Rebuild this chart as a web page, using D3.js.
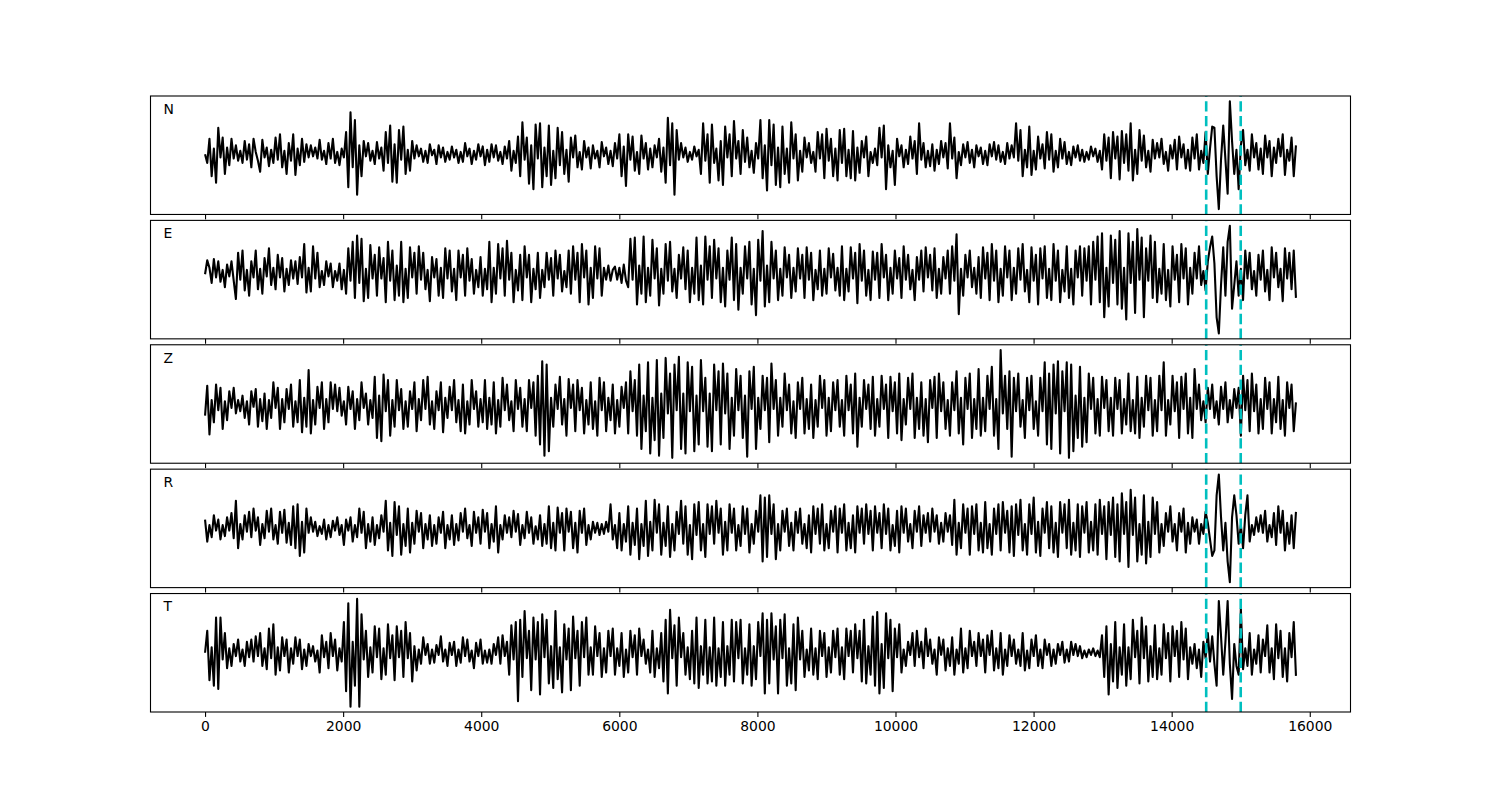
<!DOCTYPE html>
<html><head><meta charset="utf-8">
<script src="https://cdn.jsdelivr.net/npm/d3@7/dist/d3.min.js"></script>
<style>body{margin:0;background:#fff} svg{display:block}</style>
</head><body><svg id="c" width="1500" height="800"></svg>
<script>
const CHANNELS = ["N", "E", "Z", "R", "T"];
const DURATION = 15800;               // last sample index
const PICKS = [14500, 15000];         // dashed marker positions
const X_TICKS = [0, 2000, 4000, 6000, 8000, 10000, 12000, 14000, 16000];

// Each trace: successive extrema, evenly spaced over 0..DURATION samples
const traceN = [
0,-8,14,-20,5,-26,24,-3,15,-18,6,-10,14,-4,8,-6,
3,-8,12,-5,9,-12,14,2,-6,-16,13,-3,6,-11,4,-8,
15,-5,18,-12,3,-18,10,-6,18,-19,5,-10,14,-7,9,-3,
8,-2,6,-4,13,-5,3,-9,10,-4,14,-8,2,-10,5,-3,
20,-30,38,-12,31,-37,8,-20,12,-2,10,-6,3,-9,11,-4,
6,-15,20,-8,26,-25,9,-26,22,-5,25,-18,4,-15,12,-4,
8,-2,5,-7,3,-8,9,-1,4,-9,8,-3,6,-7,2,-5,
7,-3,4,-8,2,-7,10,-2,5,-9,3,-5,9,-2,7,-10,
4,-7,9,-3,8,-6,2,-9,7,-4,12,-15,3,-8,16,-20,
29,-5,15,-27,8,-32,27,-4,28,-30,6,-20,26,-28,3,-22,
24,-10,20,-18,4,-25,15,-3,17,-12,2,-14,12,-3,6,-13,
8,-4,3,-12,11,-2,6,-9,3,-11,10,-4,18,-20,7,-29,
18,-5,16,-15,2,-18,17,-4,10,-14,5,-12,8,-3,14,-16,
6,-26,33,-10,28,-37,22,-5,10,-3,6,-7,2,-5,7,-2,
4,-18,28,-6,18,-26,27,-8,5,-24,12,-28,25,-3,18,-20,
30,-4,12,-18,22,-7,15,-12,3,-17,10,-4,31,-22,8,-33,
31,-10,27,-28,6,-30,25,-18,5,-26,29,-4,18,-24,3,-16,
15,-3,10,-8,2,-16,20,-4,18,-22,23,-6,14,-20,5,-24,
22,-8,23,-20,4,-22,21,-24,6,-17,12,-3,16,-20,2,-8,
5,-10,24,-3,26,-32,8,-12,3,-28,14,-2,8,-12,4,-9,
16,-4,12,-18,28,-5,10,-12,3,-11,9,-15,4,-9,12,-3,
10,-13,28,-4,15,-22,2,-10,9,-3,11,-8,4,-12,8,-2,
6,-9,3,-10,9,-2,11,-5,8,-7,2,-9,10,-4,8,-3,
28,-6,22,-20,4,-12,25,-19,3,-14,16,-4,9,-13,20,-5,
18,-16,3,-12,14,-4,11,-9,2,-10,7,-3,8,-6,4,-7,
2,-5,7,-2,5,-7,3,-14,18,-6,15,-22,20,-4,16,-23,
21,-8,18,-15,28,-24,4,-18,22,-6,17,-12,3,-16,13,-4,
10,-3,14,-9,2,-15,8,-4,13,-14,16,-3,9,-13,4,-15,
15,-4,18,-14,3,-8,20,-18,5,25,24,-20,-50,-5,26,-5,
-36,48,12,-18,4,-32,8,22,-10,4,-15,18,-3,10,-14,5,
-18,17,-3,12,-20,6,-8,14,-2,18,-19,4,-6,15,-20,8
];
const traceE = [
0,13,6,-8,14,-3,12,-7,4,-12,9,-2,12,-6,-23,20,
-5,22,-15,4,-20,12,-3,22,-14,5,-18,15,-2,24,-10,6,
-14,18,-3,15,-16,5,-10,13,-4,12,-9,16,-3,28,-17,6,
-16,26,-4,20,-12,3,-10,12,-2,10,-12,3,-6,10,-14,4,
-18,24,-6,30,-22,36,-8,33,-25,5,-22,27,-4,18,-20,25,
-4,15,-26,30,-6,22,-24,8,-20,30,-26,5,-22,25,-3,20,
-18,26,-5,20,-14,4,-25,16,-3,14,-20,6,-22,24,-4,22,
-16,5,-24,22,-3,18,-20,24,-6,14,-18,4,-12,16,-20,5,
-14,30,-26,6,-18,28,-4,24,-20,31,-5,20,-26,4,-15,18,
-24,26,-3,18,-26,5,-14,20,-22,4,-12,20,-5,15,-20,22,
-4,18,-16,3,-12,22,-18,26,-5,20,-26,28,-3,22,-28,6,
-22,26,-4,24,-20,6,-5,8,-6,4,7,-5,6,-8,9,-6,
-12,33,-5,34,-28,8,-18,35,-26,6,-20,32,-4,24,-29,5,
-18,28,-6,30,-16,5,-22,18,-4,25,-14,22,-26,6,-18,34,
-24,8,-28,35,-5,26,-22,32,-4,24,-26,6,-30,22,-5,34,
-24,28,-33,6,-18,26,-4,30,-28,5,-38,32,-6,40,-30,8,
-26,30,-4,22,-24,5,-20,25,-3,18,-22,6,-16,24,-4,18,
-22,25,-5,20,-24,4,-14,22,-20,5,-18,24,-3,19,-15,6,
-20,26,-24,5,-16,25,-4,20,-27,28,-6,22,-20,4,-24,21,
-5,20,-22,28,-3,18,-24,6,-18,22,-4,15,-22,26,-5,18,
-14,4,-24,16,-5,22,-16,25,-3,18,-15,24,-22,5,-18,16,
-4,22,-18,26,-6,37,-37,5,-20,18,-3,22,-12,6,-18,16,
-22,25,-4,20,-24,28,-6,22,-26,5,-20,26,-3,22,-24,6,
-18,24,-5,28,-16,4,-26,25,-6,18,-28,24,-4,26,-22,5,
-24,28,-6,22,-26,4,-16,26,-22,5,-28,22,-3,26,-20,24,
-6,26,-28,30,-5,35,-26,38,-40,6,-30,36,-8,32,-28,40,
-32,6,-42,38,-8,30,-36,42,-5,34,-40,24,-6,36,-22,30,
-26,5,-18,28,-24,4,-30,26,-5,18,-26,28,-4,24,-28,6,
-18,20,-4,26,-10,3,-15,12,25,35,10,-40,-55,-10,25,-20,
30,45,-32,-10,12,-20,5,-24,22,-4,20,-14,3,-20,18,-5,
22,-16,4,-24,25,-3,20,-12,5,-25,24,-4,20,-14,22,-22
];
const traceZ = [
-10,17,-27,4,-16,18,-5,15,-22,3,-14,12,-3,15,-8,4,
-6,8,-12,3,-18,12,-2,14,-20,5,-15,10,-22,4,-12,20,
-3,15,-22,5,-16,14,-4,18,-20,3,-16,22,-25,6,-20,31,
-26,4,-18,16,-3,20,-22,5,-16,20,-4,18,-6,15,-10,3,
-18,16,-4,12,-22,5,-14,20,-3,10,-18,4,-12,25,-30,8,
-33,27,-6,22,-28,4,-20,22,-5,14,-22,3,-20,12,-4,20,
-24,5,-14,22,-4,25,-18,3,-22,12,-5,20,-25,6,-12,16,
-5,22,-16,4,-24,18,-26,3,-18,22,-4,12,-20,5,-16,22,
-22,6,-18,20,-26,4,-20,24,-5,18,-14,3,-24,22,-4,15,
-20,5,-24,22,-3,20,-28,26,-36,39,-46,36,-42,6,-20,18,
-4,25,-18,5,-28,23,-3,18,-24,22,-5,15,-26,4,-18,20,
-22,3,-28,24,-5,20,-24,6,-14,18,-26,4,-20,16,-3,20,
-26,30,-6,22,-28,36,-40,8,-24,38,-44,6,-32,40,-46,10,
-30,42,-8,28,-48,36,-5,43,-40,10,-44,38,-6,34,-42,8,
-36,40,-6,24,-38,10,-42,36,-5,30,-36,37,-8,28,-40,6,
-28,32,-5,26,-30,8,-47,30,-4,34,-40,6,-22,26,-5,24,
-34,37,-4,22,-28,6,-20,28,-5,18,-26,3,-30,20,-4,24,
-26,5,-22,18,-30,4,-20,26,-3,22,-28,6,-24,20,-5,22,
-20,4,-28,26,-5,18,-26,28,-38,6,-20,22,-4,18,-22,25,
-28,5,-20,26,-4,18,-30,25,-6,20,-26,28,-32,5,-18,24,
-4,28,-30,6,-22,20,-28,5,-34,22,-3,25,-30,28,-6,20,
-22,4,-28,20,-5,30,-26,6,-36,24,-4,28,-30,5,-22,32,
-28,6,-24,26,-4,34,-28,5,-40,49,-8,26,-22,30,-47,24,
-6,28,-20,4,-30,24,-5,26,-22,3,-28,24,-6,38,-36,28,
-40,36,-8,39,-44,30,-6,38,-48,36,-42,8,-30,34,-38,6,
-34,28,-4,24,-26,5,-28,25,-3,22,-24,6,-28,24,-4,22,
-26,5,-18,28,-24,4,-26,25,-30,6,-20,26,-5,24,-28,4,
-24,26,-5,38,-28,4,-18,26,-6,20,-30,25,-4,28,-26,6,
-30,32,-4,18,-14,3,-16,15,-4,18,-12,3,-18,16,-4,20,
-16,4,-12,14,-3,15,-28,26,-5,22,-24,28,-6,18,-26,5,
-22,24,-4,20,-26,5,-16,25,-22,4,-28,20,-3,18,-24,2
];
const traceR = [
8,-12,3,-8,12,-2,8,-10,3,-7,10,-2,14,-9,25,-18,
4,-10,12,-3,15,-8,18,-2,10,-15,4,-9,16,-3,18,-10,
3,-14,15,-4,17,-13,5,-15,20,-18,22,-25,6,-22,18,-4,
10,-3,6,-7,2,-5,8,-10,3,-8,7,-2,10,-6,3,-15,
8,-2,10,-12,3,-8,18,-4,15,-18,4,-12,10,-15,3,-9,
12,-3,25,-20,5,-25,24,-6,20,-24,4,-16,18,-22,5,-14,
16,-3,14,-18,4,-10,12,-16,3,-14,10,-4,15,-18,3,-10,
12,-15,4,-11,14,-3,18,-9,3,-16,15,-4,10,-14,17,-3,
14,-18,4,-12,20,-22,3,-10,12,-4,10,-8,16,-3,13,-15,
3,-9,15,-4,10,-14,2,-10,12,-16,4,-14,20,-18,5,-20,
19,-4,14,-20,18,-3,15,-18,5,-22,16,-4,18,-15,3,-10,
6,-4,5,-6,4,-5,6,-3,22,-10,3,-18,14,-20,4,-12,
20,-24,5,-15,18,-28,4,-16,25,-25,6,-20,26,-4,22,-24,
5,-16,20,-26,4,-20,15,-5,25,-14,20,-24,3,-28,22,-6,
24,-20,4,-26,22,-5,20,-14,25,-4,18,-24,6,-20,22,-4,
18,-20,3,-16,20,-5,18,-22,4,-14,16,-3,30,-30,28,-26,
30,-5,22,-28,4,-20,16,-3,18,-16,5,-20,15,-4,18,-14,
4,-18,12,-22,20,-5,18,-14,22,-20,4,-18,16,-3,20,-22,
18,-4,22,-20,5,-18,12,-22,20,-4,18,-14,22,-5,16,-20,
20,-4,14,-18,22,-5,18,-20,3,-16,16,-22,20,-4,18,-12,
4,-18,16,-3,20,-16,12,-4,14,-12,18,-3,12,-14,5,-12,
14,-3,12,-15,26,-24,5,-18,22,-4,18,-24,20,-5,22,-20,
5,-22,24,-18,4,-24,18,-5,22,-20,24,-4,16,-22,20,-25,
22,-6,26,-20,4,-24,22,-5,28,-22,6,-25,18,-4,24,-18,
20,-22,5,-26,24,-4,22,-18,26,-24,5,-20,22,-26,20,-4,
24,-22,6,-20,22,-24,26,-5,20,-28,24,-6,28,-26,22,-30,
32,-5,24,-35,35,-6,28,-30,4,-24,30,-32,6,-26,28,-5,
24,-22,4,-16,14,-3,20,-12,4,-20,14,-3,18,-22,5,-14,
10,-3,8,-14,4,-5,15,5,-10,-25,-20,30,49,10,-20,5,
-30,-49,10,30,12,-14,3,-18,12,30,-12,3,-6,10,-3,12,
-4,16,-12,3,-8,14,-15,20,-4,16,-20,5,-14,12,-18,15
];
const traceT = [
0,20,-25,5,-30,32,-33,32,-6,18,-14,4,-12,8,-3,12,
-8,3,-12,10,-4,12,-8,15,-3,18,-12,4,-15,22,-5,26,
-20,5,-16,14,-3,12,-18,4,-10,14,-3,12,-15,3,-12,8,
-3,6,-8,2,-18,16,-4,10,-14,18,-3,12,-16,4,-8,28,
-35,45,-49,10,-30,49,-49,35,-6,20,-22,5,-18,24,-4,22,
-24,4,-20,26,-5,16,-25,24,-4,20,-22,28,-5,18,-26,6,
-16,3,-10,14,-2,8,-10,3,-9,7,-2,15,-8,3,-12,9,
-2,10,-12,3,-9,14,-3,12,-8,2,-14,9,-3,12,-10,2,
-9,3,-10,8,-2,14,-10,16,-3,10,-20,25,-6,28,-44,30,
-22,38,-5,20,-34,32,-6,28,-38,35,-4,30,-28,6,-32,38,
-24,5,-36,26,-6,22,-34,33,-5,20,-30,28,-4,32,-20,5,
-20,24,-3,18,-22,4,-18,20,-3,22,-20,4,-12,18,-22,3,
-18,20,-4,16,-20,22,-3,12,-10,3,-18,20,-22,4,-14,18,
-26,30,-37,39,-5,25,-30,32,-4,18,-20,5,-24,20,-28,32,
-32,6,-20,30,-28,5,-26,32,-30,4,-22,28,-30,6,-20,30,
-26,28,-5,30,-28,4,-20,26,-30,6,-24,28,-3,36,-37,30,
-28,36,-6,24,-37,30,-5,35,-30,4,-28,26,-34,32,-6,20,
-22,3,-16,22,-20,4,-24,20,-3,18,-22,5,-18,20,-4,22,
-20,5,-24,22,-3,20,-18,26,-5,20,-26,30,-28,6,-20,33,
-30,37,-37,8,-32,36,-5,30,-35,22,-4,26,-18,3,-12,10,
-2,18,-12,20,-4,10,-14,22,-3,12,-10,3,-20,14,-2,12,
-16,4,-12,14,-20,3,-10,22,-18,4,-14,20,-3,10,-12,18,
-3,12,-18,16,-2,20,-16,4,-14,18,-20,3,-12,16,-3,12,
-10,3,-12,18,-16,2,-14,12,-3,16,-12,3,-14,12,-2,8,
-12,3,-10,8,-2,10,-9,3,-8,10,-2,8,-3,6,-5,2,
-4,3,-2,4,-3,2,-4,16,-22,24,-38,8,-26,28,-32,5,
-20,26,-30,5,-24,30,-4,20,-28,32,-5,24,-26,6,-22,25,
-24,4,-20,26,-5,18,-26,24,-3,20,-22,28,-6,22,-24,5,
-10,8,-14,3,-22,10,-5,18,-8,15,-10,-30,47,15,-20,10,
47,-10,-42,8,-12,-20,40,-15,4,-12,18,-20,3,-10,16,-18,
12,-3,25,-18,4,-24,26,-5,20,-22,4,-26,18,-4,28,-21
];
const TRACES = [traceN, traceE, traceZ, traceR, traceT];

// ---------- layout (matches a 15x8in, 100dpi figure) ----------
const svg = d3.select("#c");
const L = 150.5, R = 1350.5, TOP = 96, BOT = 712;
const HS = 0.05;
const ph = (BOT - TOP) / (CHANNELS.length + (CHANNELS.length - 1) * HS);
const gap = ph * HS;
const FONT = "'DejaVu Sans', sans-serif";

const x = d3.scaleLinear()
  .domain([-0.05 * DURATION, 1.05 * DURATION])
  .range([L, R]);

CHANNELS.forEach((name, k) => {
  const data = TRACES[k];
  const n = data.length;
  const y0 = TOP + k * (ph + gap);
  const [mn, mx] = d3.extent(data);
  const pad = (mx - mn) * 0.05;
  const y = d3.scaleLinear().domain([mn - pad, mx + pad]).range([y0 + ph, y0]);

  const g = svg.append("g");
  const clipId = "clip" + k;
  svg.append("clipPath").attr("id", clipId)
    .append("rect").attr("x", L).attr("y", y0).attr("width", R - L).attr("height", ph);

  const line = d3.line()
    .x((d, i) => x(i * DURATION / (n - 1)))
    .y(d => y(d))
    .curve(d3.curveLinear);

  g.append("path")
    .datum(data)
    .attr("clip-path", `url(#${clipId})`)
    .attr("fill", "none")
    .attr("stroke", "#000")
    .attr("stroke-width", 2.1)
    .attr("stroke-linejoin", "round")
    .attr("d", line);

  PICKS.forEach(p => {
    g.append("line")
      .attr("x1", x(p)).attr("x2", x(p))
      .attr("y1", y0 + ph).attr("y2", y0)
      .attr("stroke", "#00bfbf")
      .attr("stroke-width", 2.6)
      .attr("stroke-dasharray", "10.3,4.4");
  });

  g.append("rect")
    .attr("x", L).attr("y", y0).attr("width", R - L).attr("height", ph)
    .attr("fill", "none").attr("stroke", "#000").attr("stroke-width", 1.1);

  const ax = d3.axisBottom(x).tickValues(X_TICKS).tickSize(4.9).tickPadding(4.2)
    .tickFormat(k === CHANNELS.length - 1 ? d3.format("d") : () => "");
  const axG = g.append("g").attr("transform", `translate(0,${y0 + ph})`).call(ax);
  axG.select(".domain").remove();
  axG.selectAll(".tick line").attr("stroke", "#000").attr("stroke-width", 1.1);
  axG.selectAll(".tick text").attr("fill", "#000")
    .style("font-family", FONT).style("font-size", "13.9px");

  g.append("text")
    .attr("x", L + 0.01 * (R - L) + 1)
    .attr("y", y0 + 0.15 * ph)
    .style("font-family", FONT).style("font-size", "13.9px")
    .attr("fill", "#000")
    .text(name);
});
</script>
</body></html>
